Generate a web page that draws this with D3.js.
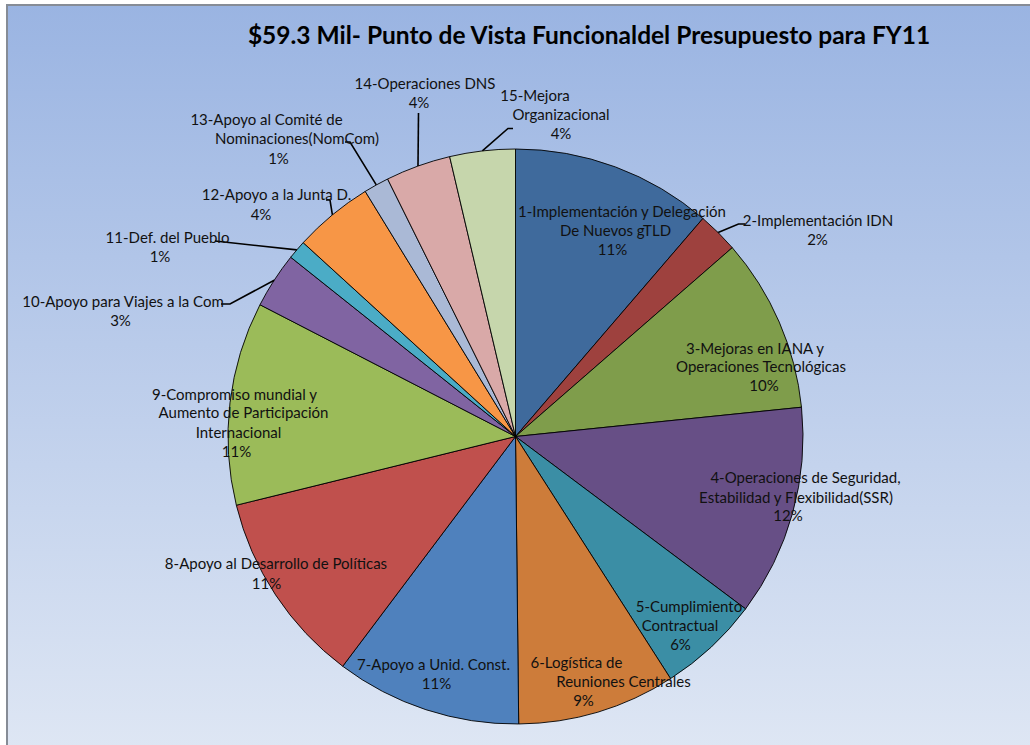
<!DOCTYPE html>
<html>
<head>
<meta charset="utf-8">
<script src="https://cdn.jsdelivr.net/npm/d3@7"></script>
<style>
  html, body { margin: 0; padding: 0; background: #ffffff; }
  svg { display: block; }
</style>
</head>
<body>
<svg id="chart" width="1030" height="745"></svg>
<script>
// ---------- DATA ----------
const titleText = "$59.3 Mil- Punto de Vista Funcionaldel Presupuesto para FY11";

const categories = [
  "1-Implementación y Delegación De Nuevos gTLD",
  "2-Implementación IDN",
  "3-Mejoras en IANA y Operaciones Tecnológicas",
  "4-Operaciones de Seguridad, Estabilidad y Flexibilidad(SSR)",
  "5-Cumplimiento Contractual",
  "6-Logística de Reuniones Centrales",
  "7-Apoyo a Unid. Const.",
  "8-Apoyo al Desarrollo de Políticas",
  "9-Compromiso mundial y Aumento de Participación Internacional",
  "10-Apoyo para Viajes a la Com",
  "11-Def. del Pueblo",
  "12-Apoyo a la Junta D.",
  "13-Apoyo al Comité de Nominaciones(NomCom)",
  "14-Operaciones DNS",
  "15-Mejora Organizacional"
];

// values in $ millions (total 59.3)
const values = [6.70, 1.36, 5.80, 7.03, 3.38, 5.27, 6.19, 6.46, 6.77, 1.86, 0.63, 2.65, 0.84, 2.17, 2.18];

const pctLabels = ["11%", "2%", "10%", "12%", "6%", "9%", "11%", "11%", "11%", "3%", "1%", "4%", "1%", "4%", "4%"];

// label text broken into lines as in the chart
const labelLines = [
  ["1-Implementación y Delegación", "De Nuevos gTLD"],
  ["2-Implementación IDN"],
  ["3-Mejoras en IANA y", "Operaciones Tecnológicas"],
  ["4-Operaciones de Seguridad,", "Estabilidad y Flexibilidad(SSR)"],
  ["5-Cumplimiento", "Contractual"],
  ["6-Logística de", "Reuniones Centrales"],
  ["7-Apoyo a Unid. Const."],
  ["8-Apoyo al Desarrollo de Políticas"],
  ["9-Compromiso mundial y", "Aumento de Participación", "Internacional"],
  ["10-Apoyo para Viajes a la Com"],
  ["11-Def. del Pueblo"],
  ["12-Apoyo a la Junta D."],
  ["13-Apoyo al Comité de", "Nominaciones(NomCom)"],
  ["14-Operaciones DNS"],
  ["15-Mejora", "Organizacional"]
];

const colors = ["#3f6a9c", "#9e413e", "#7f9d4b", "#674f86", "#3b8ea5", "#cd7c3a",
                "#4f81bd", "#c0504d", "#9bbb59", "#8064a2", "#4bacc6", "#f79646",
                "#aab9d6", "#d9a9a8", "#c6d6ac"];

// ---------- LAYOUT ----------
const W = 1030, H = 745;
const cx = 515.5, cy = 436.5, R = 287.5;

// centre of each text line (label lines then percentage line)
const labelPos = [
  [[622, 211], [615.5, 230], [612.5, 249]],
  [[818, 219.5], [817.5, 239]],
  [[755, 347.5], [761, 366], [764, 385]],
  [[805.5, 477], [796, 496.5], [788, 515]],
  [[689, 606], [680, 624.5], [680.5, 643.5]],
  [[576.5, 662], [623.5, 680.5], [583.5, 699.5]],
  [[433.5, 664], [436.5, 682.5]],
  [[276, 563], [266.5, 582.5]],
  [[234.5, 393.5], [243.5, 412], [238.5, 431.5], [236.5, 450.5]],
  [[123, 300.5], [120.5, 319.5]],
  [[167.5, 236.5], [160, 255.5]],
  [[276.5, 194], [261, 213.5]],
  [[266.5, 118.5], [297, 138], [278.5, 157.5]],
  [[425, 83], [419, 102]],
  [[535, 95], [561, 114], [561, 133]]
];

// leader line points after the slice edge point (null = no leader)
const leaders = [
  null,
  [[738.5, 224], [745, 224]],
  null, null, null, null, null, null, null,
  [[230, 304], [221, 304]],
  [[215, 241]],
  [[330, 200], [326, 200]],
  [[350, 142], [345, 142]],
  [[418.5, 113]],
  [[508, 128.5], [513, 128.5]]
];

const svg = d3.select("#chart");
const defs = svg.append("defs");
const grad = defs.append("linearGradient").attr("id", "bg")
  .attr("x1", 0).attr("y1", 0).attr("x2", 0).attr("y2", 1);
grad.append("stop").attr("offset", "0%").attr("stop-color", "#9ab4e2");
grad.append("stop").attr("offset", "100%").attr("stop-color", "#dfe7f4");

svg.append("rect").attr("x", 0).attr("y", 0).attr("width", W).attr("height", H).attr("fill", "#ffffff");
svg.append("rect").attr("x", 7).attr("y", 5).attr("width", W + 10).attr("height", H + 10)
  .attr("fill", "url(#bg)").attr("stroke", "#868c96").attr("stroke-width", 2);

svg.append("text")
  .attr("x", 589).attr("y", 34)
  .attr("text-anchor", "middle").attr("dominant-baseline", "central")
  .attr("font-family", "Lato, 'Liberation Sans', sans-serif")
  .attr("font-weight", "bold").attr("font-size", 24.5)
  .attr("fill", "#000")
  .text(titleText);

const pie = d3.pie().sort(null).value(d => d).startAngle(0).endAngle(2 * Math.PI);
const arcs = pie(values);
const arcGen = d3.arc().innerRadius(0).outerRadius(R);

const g = svg.append("g").attr("transform", `translate(${cx},${cy})`);
g.selectAll("path.slice").data(arcs).enter().append("path")
  .attr("class", "slice")
  .attr("d", arcGen)
  .attr("fill", (d, i) => colors[i])
  .attr("stroke", "#000").attr("stroke-width", 0.9).attr("stroke-linejoin", "round");

// leader lines
arcs.forEach((a, i) => {
  if (!leaders[i]) return;
  const mid = (a.startAngle + a.endAngle) / 2;
  const p0 = [cx + R * Math.sin(mid), cy - R * Math.cos(mid)];
  const pts = [p0].concat(leaders[i]);
  svg.append("path")
    .attr("d", d3.line()(pts))
    .attr("fill", "none").attr("stroke", "#000").attr("stroke-width", 1.6);
});

// labels
const fontFam = "Lato, 'Liberation Sans', sans-serif";
const fontSize = 15;
arcs.forEach((a, i) => {
  const lines = labelLines[i].concat([pctLabels[i]]);
  lines.forEach((t, k) => {
    const p = labelPos[i][k];
    svg.append("text")
      .attr("x", p[0]).attr("y", p[1])
      .attr("text-anchor", "middle").attr("dominant-baseline", "central")
      .attr("font-family", fontFam).attr("font-size", fontSize)
      .attr("fill", "#111")
      .text(t);
  });
});
</script>
</body>
</html>
